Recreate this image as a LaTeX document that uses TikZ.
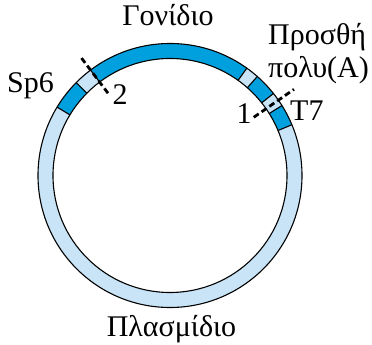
\documentclass[tikz,border=0pt]{standalone}
\usepackage{fontspec}
\setmainfont{Liberation Serif}
\newfontfamily\lblfont{Liberation Serif}
\definecolor{darkblue}{RGB}{0,160,222}
\definecolor{lightblue}{RGB}{200,228,246}
\tikzset{
  lbl/.style={inner sep=0pt, font=\lblfont\fontsize{30}{35}\selectfont},
  cutline/.style={line width=2.8pt, dash pattern=on 6pt off 3.5pt},
  seg/.style={fill=darkblue},
  edge/.style={line width=1.1pt},
}
\begin{document}
\begin{tikzpicture}[x=1pt,y=1pt]
\useasboundingbox (0,0) rectangle (372,345);
\clip (0,0) rectangle (372,345);
\begin{scope}[shift={(170,169.5)}]
  % base ring
  \fill[lightblue, even odd rule] (0,0) circle (132) (0,0) circle (117);
  % dark segments
  \foreach \a/\b in {135.3/148.8, 54.4/127, 38.4/48.6, 22.6/32}{
    \fill[seg] (\a:117) arc (\a:\b:117) -- (\b:132) arc (\b:\a:132) -- cycle;
  }
  % boundaries
  \foreach \a in {22.6,32,38.4,48.6,54.4,127,135.3,148.8}{
    \draw[edge] (\a:117) -- (\a:132);
  }
  \draw[edge] (0,0) circle (132);
  \draw[edge] (0,0) circle (117);
  % cut lines
  \coordinate (c2a) at (127:103);
  \coordinate (c2b) at (127:150);
  \coordinate (c1a) at (34.8:102);
  \coordinate (c1b) at (34.8:151);
  \draw[cutline] (c2a) -- (c2b);
  \draw[cutline] (c1a) -- (c1b);
\end{scope}
\node[lbl, anchor=base] (gene) at (168,319) {Γονίδιο};
\node[lbl, anchor=base west] (sp6) at (7,252) {Sp6};
\node[lbl, anchor=base] (two) at (120,240) {2};
\node[lbl, anchor=base] (one) at (244,221) {1};
\node[lbl, anchor=base west] (t7) at (290,224) {T7};
\node[lbl, anchor=base west] (add) at (268,300) {Προσθή};
\node[lbl, anchor=base west] (polyA) at (268,267) {πολυ(A)};
\node[lbl, anchor=base] (plasmid) at (171.5,8) {Πλασμίδιο};
\end{tikzpicture}
\end{document}
